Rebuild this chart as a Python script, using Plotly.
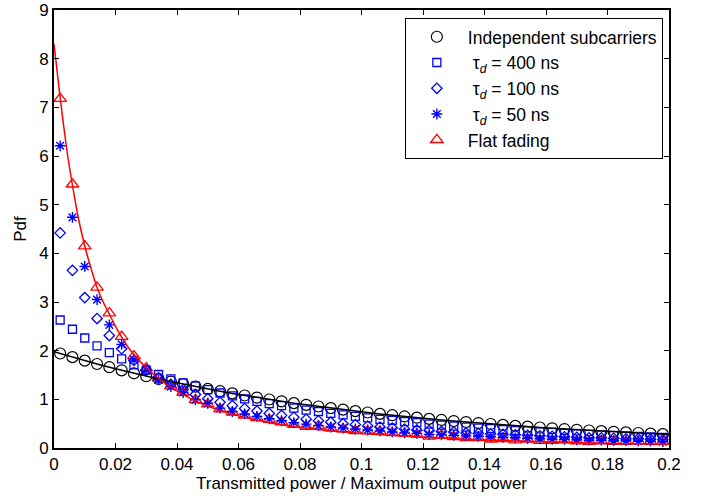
import plotly.graph_objects as go

# x positions of the simulated markers
x_pts = [round(0.002 + 0.004 * i, 3) for i in range(50)]

indep = [1.942, 1.867, 1.795, 1.726, 1.660, 1.596, 1.535, 1.476, 1.419, 1.365,
         1.312, 1.262, 1.213, 1.167, 1.122, 1.079, 1.037, 0.997, 0.959, 0.922,
         0.887, 0.853, 0.820, 0.788, 0.758, 0.729, 0.701, 0.674, 0.648, 0.623,
         0.599, 0.576, 0.554, 0.533, 0.512, 0.493, 0.474, 0.455, 0.438, 0.421,
         0.405, 0.389, 0.374, 0.360, 0.346, 0.333, 0.320, 0.308, 0.296, 0.284]

tau400 = [2.63, 2.44, 2.26, 2.10, 1.96, 1.83, 1.71, 1.60, 1.51, 1.42,
          1.34, 1.27, 1.20, 1.13, 1.07, 1.01, 0.96, 0.91, 0.87, 0.82,
          0.78, 0.75, 0.71, 0.68, 0.65, 0.62, 0.59, 0.57, 0.54, 0.52,
          0.49, 0.47, 0.45, 0.43, 0.41, 0.40, 0.38, 0.36, 0.35, 0.33,
          0.32, 0.30, 0.29, 0.28, 0.27, 0.26, 0.25, 0.24, 0.23, 0.22]

tau100 = [4.42, 3.65, 3.09, 2.66, 2.31, 2.04, 1.80, 1.60, 1.44, 1.31,
          1.20, 1.10, 1.01, 0.94, 0.87, 0.81, 0.76, 0.71, 0.67, 0.63,
          0.59, 0.56, 0.53, 0.50, 0.48, 0.45, 0.43, 0.41, 0.39, 0.37,
          0.36, 0.34, 0.33, 0.31, 0.30, 0.29, 0.28, 0.27, 0.26, 0.25,
          0.24, 0.23, 0.22, 0.21, 0.21, 0.20, 0.19, 0.19, 0.18, 0.17]

tau50 = [6.21, 4.74, 3.73, 3.05, 2.53, 2.13, 1.81, 1.60, 1.40, 1.26,
         1.14, 0.99, 0.92, 0.82, 0.75, 0.70, 0.65, 0.60, 0.56, 0.52,
         0.49, 0.46, 0.43, 0.41, 0.39, 0.37, 0.35, 0.33, 0.31, 0.30,
         0.28, 0.27, 0.26, 0.25, 0.24, 0.23, 0.22, 0.21, 0.20, 0.19,
         0.18, 0.18, 0.17, 0.16, 0.16, 0.15, 0.15, 0.14, 0.14, 0.13]

flat = [7.18, 5.42, 4.15, 3.30, 2.77, 2.29, 1.89, 1.64, 1.43, 1.27,
        1.14, 0.99, 0.90, 0.80, 0.73, 0.67, 0.62, 0.585, 0.53, 0.48,
        0.44, 0.45, 0.41, 0.39, 0.35, 0.35, 0.34, 0.31, 0.30, 0.28,
        0.24, 0.26, 0.23, 0.21, 0.21, 0.18, 0.19, 0.16, 0.18, 0.15,
        0.15, 0.16, 0.14, 0.13, 0.14, 0.13, 0.13, 0.14, 0.13, 0.13]

# theoretical curves (solid lines)
indep_line_x = [0.0] + x_pts + [0.2]
indep_line_y = [1.98] + indep + [0.279]

flat_line_x = [0.0, 0.002, 0.004, 0.006, 0.008, 0.010, 0.012, 0.014, 0.016, 0.018,
               0.020, 0.022, 0.024, 0.026, 0.028, 0.030, 0.035, 0.040, 0.045, 0.050,
               0.055, 0.060, 0.070, 0.080, 0.090, 0.100, 0.110, 0.120, 0.130, 0.140,
               0.150, 0.160, 0.170, 0.180, 0.190, 0.200]
flat_line_y = [8.30, 7.20, 6.20, 5.40, 4.70, 4.15, 3.70, 3.30, 3.00, 2.75,
               2.50, 2.28, 2.08, 1.92, 1.78, 1.65, 1.38, 1.17, 1.00, 0.86,
               0.75, 0.66, 0.52, 0.42, 0.35, 0.30, 0.26, 0.22, 0.19, 0.165,
               0.145, 0.125, 0.11, 0.095, 0.085, 0.075]

x_tickvals = [0, 0.02, 0.04, 0.06, 0.08, 0.1, 0.12, 0.14, 0.16, 0.18, 0.2]
x_ticktext = ["0", "0.02", "0.04", "0.06", "0.08", "0.1", "0.12", "0.14", "0.16", "0.18", "0.2"]
y_tickvals = [0, 1, 2, 3, 4, 5, 6, 7, 8, 9]

BLUE = "#0000ff"
RED = "#ff0000"
FONT = "Liberation Sans, Arial, Helvetica, sans-serif"
FS = 17

fig = go.Figure()

fig.add_trace(go.Scatter(x=x_pts, y=indep, mode="markers", name="Independent subcarriers",
                         legendgroup="a", legendrank=1,
                         marker=dict(symbol="circle-open", size=11, color="black",
                                     line=dict(width=1.2, color="black"))))
fig.add_trace(go.Scatter(x=x_pts, y=flat, mode="markers", name="Flat fading",
                         legendgroup="e", legendrank=5,
                         marker=dict(symbol="triangle-up-open", size=11, color=RED,
                                     line=dict(width=1.3, color=RED))))
fig.add_trace(go.Scatter(x=x_pts, y=tau400, mode="markers",
                         name="\u00a0τ<sub><i>d</i></sub> = 400 ns",
                         legendgroup="b", legendrank=2,
                         marker=dict(symbol="square-open", size=8, color=BLUE,
                                     line=dict(width=1.3, color=BLUE))))
fig.add_trace(go.Scatter(x=x_pts, y=tau100, mode="markers",
                         name="\u00a0τ<sub><i>d</i></sub> = 100 ns",
                         legendgroup="c", legendrank=3,
                         marker=dict(symbol="diamond-open", size=8, color=BLUE,
                                     line=dict(width=1.3, color=BLUE))))
fig.add_trace(go.Scatter(x=x_pts, y=tau50, mode="markers",
                         name="\u00a0τ<sub><i>d</i></sub> = 50 ns",
                         legendgroup="d", legendrank=4,
                         marker=dict(symbol="asterisk-open", size=9, color=BLUE,
                                     line=dict(width=1.4, color=BLUE))))
fig.add_trace(go.Scatter(x=indep_line_x, y=indep_line_y, mode="lines", showlegend=False,
                         line=dict(color="black", width=1.5)))
fig.add_trace(go.Scatter(x=flat_line_x, y=flat_line_y, mode="lines", showlegend=False,
                         line=dict(color=RED, width=1.5, shape="spline", smoothing=0.6)))

axis_common = dict(showline=True, linecolor="black", linewidth=2, mirror="allticks",
                   ticks="inside", ticklen=5, tickwidth=1.3, tickcolor="black",
                   showgrid=False, zeroline=False, automargin=False,
                   tickfont=dict(family=FONT, size=FS, color="black"))

fig.update_layout(
    width=709, height=498,
    margin=dict(l=54, r=40, t=10, b=50, autoexpand=False),
    paper_bgcolor="white", plot_bgcolor="white",
    font=dict(family=FONT, size=FS, color="black"),
    xaxis=dict(range=[0, 0.2], tickvals=x_tickvals, ticktext=x_ticktext,
               title=dict(text="Transmitted power / Maximum output power", standoff=2,
                          font=dict(family=FONT, size=FS, color="black")),
               **axis_common),
    yaxis=dict(range=[0, 9], tickvals=y_tickvals,
               title=dict(text="Pdf", standoff=8,
                          font=dict(family=FONT, size=FS, color="black")),
               **axis_common),
    legend=dict(x=0.99, y=0.982, xanchor="right", yanchor="top",
                bgcolor="white", bordercolor="black", borderwidth=1,
                traceorder="grouped", tracegroupgap=0, itemwidth=52,
                font=dict(family=FONT, size=17.5, color="black")),
    showlegend=True,
)

fig.write_html("out.html")
